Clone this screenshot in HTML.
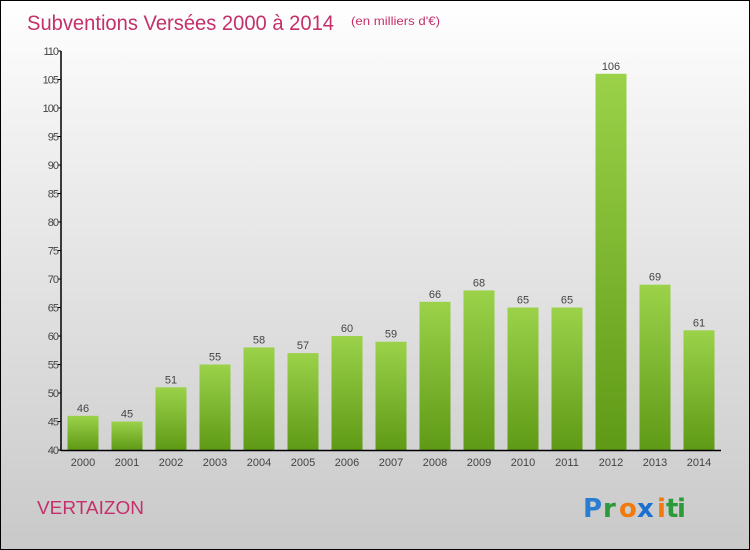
<!DOCTYPE html>
<html><head><meta charset="utf-8"><style>
body{margin:0}
#c{width:748px;height:548px;border:1px solid #000;position:relative;background:linear-gradient(#fff,#f0f0f0 25%,#c9c9c9);font-family:"Liberation Sans",sans-serif;overflow:hidden}
</style></head><body>
<div id="c">
<svg id="s" width="748" height="548" style="position:absolute;left:0;top:0">
<defs><linearGradient id="g" x1="0" y1="0" x2="0" y2="1"><stop offset="0" stop-color="#9bd24a"/><stop offset="1" stop-color="#5f9a16"/></linearGradient></defs>
<text x="26" y="29" font-size="21" fill="#c4306a" textLength="307" lengthAdjust="spacingAndGlyphs">Subventions Versées 2000 à 2014</text>
<text x="350" y="24" font-size="12" fill="#c4306a" textLength="89" lengthAdjust="spacingAndGlyphs">(en milliers d'€)</text>
<text x="36" y="513" font-size="18" fill="#c4306a" textLength="107" lengthAdjust="spacingAndGlyphs">VERTAIZON</text>
<g font-size="26" font-weight="bold" font-family="'DejaVu Sans',sans-serif">
<text x="582" y="516" fill="#2a7dd0">P</text><text x="602" y="516" fill="#2a9a3a">r</text><text x="618" y="516" fill="#f07a10">o</text><text x="636" y="516" fill="#1a6fd0">x</text><text x="656" y="516" fill="#f07a10">i</text><text x="665" y="516" fill="#2a9a3a">t</text><text x="676" y="516" fill="#2a9a3a">i</text>
</g>
</svg>
</div>
<script>
const categories=["2000","2001","2002","2003","2004","2005","2006","2007","2008","2009","2010","2011","2012","2013","2014"];
const values=[46,45,51,55,58,57,60,59,66,68,65,65,106,69,61];
const yTicks=[40,45,50,55,60,65,70,75,80,85,90,95,100,105,110];
const s=document.getElementById('s');
const NS='http://www.w3.org/2000/svg';
const x0=60,x1=720,y0=449,y1=50,vmin=40,vmax=110;
const bw=(x1-x0)/categories.length;
const y=v=>y0-(v-vmin)/(vmax-vmin)*(y0-y1);
const xc=i=>x0+bw*(i+0.5);
function mk(t,a){const e=document.createElementNS(NS,t);for(const k in a)e.setAttribute(k,a[k]);s.appendChild(e);return e;}
values.forEach((v,i)=>{
 const r=mk('rect',{x:xc(i)-15.5,y:y(v),width:31,height:y0-y(v),fill:'url(#g)'});
 
 
 const t=mk('text',{x:xc(i),y:y(v)-4,'text-anchor':'middle','font-size':11,fill:'#444'});
 t.textContent=v;
 
 
 const c=mk('text',{x:xc(i),y:y0+16,'text-anchor':'middle','font-size':11,fill:'#444'});
 c.textContent=categories[i];
 
 
});
yTicks.forEach(v=>{
 const l=mk('line',{x1:x0-3,x2:x0,y1:y(v),y2:y(v),stroke:'#000'});
 
 
 const t=mk('text',{x:x0-3,y:y(v)+4,'text-anchor':'end','font-size':11,fill:'#444','letter-spacing':'-1'});
 t.textContent=v;
 
 
});
const ya=mk('line',{x1:x0,x2:x0,y1:y1,y2:y0+1,stroke:'#000','stroke-width':1.5});


const xa=mk('line',{x1:x0,x2:x1,y1:y0+0.5,y2:y0+0.5,stroke:'#000','stroke-width':1.5});


</script>
</body></html>
